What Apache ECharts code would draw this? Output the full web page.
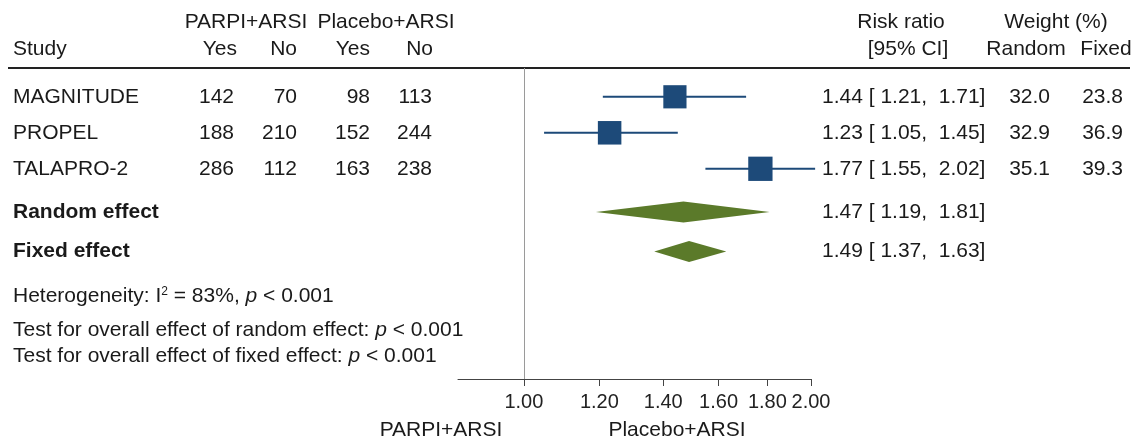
<!DOCTYPE html>
<html>
<head>
<meta charset="utf-8">
<script src="https://cdn.jsdelivr.net/npm/echarts@6/dist/echarts.min.js"></script>
<style>
  html, body { margin: 0; padding: 0; background: #fff; }
  #chart { width: 1137px; height: 443px; }
</style>
</head>
<body>
<div id="chart"></div>
<script>
// study level data
var studies = ['MAGNITUDE', 'PROPEL', 'TALAPRO-2'];
var parpiYes = [142, 188, 286];
var parpiNo = [70, 210, 112];
var placeboYes = [98, 152, 163];
var placeboNo = [113, 244, 238];
var riskRatio = [1.44, 1.23, 1.77];
var ciLow = [1.21, 1.05, 1.55];
var ciHigh = [1.71, 1.45, 2.02];
var weightRandom = [32.0, 32.9, 35.1];
var weightFixed = [23.8, 36.9, 39.3];

// pooled estimates
var pooledNames = ['Random effect', 'Fixed effect'];
var pooledRR = [1.47, 1.49];
var pooledLow = [1.19, 1.37];
var pooledHigh = [1.81, 1.63];

var tickValues = [1.00, 1.20, 1.40, 1.60, 1.80, 2.00];

var BLUE = '#1d4a79';
var GREEN = '#5b7a2a';
var INK = '#1a1a1a';
var FONT = "21px 'Liberation Sans', Arial, sans-serif";
var lg = Math.log;

function txt(s, x, y, align, font) {
  return {
    type: 'text',
    style: {
      text: s, x: x, y: y, font: font || FONT, fill: INK,
      align: align, verticalAlign: 'middle',
      textAlign: align, textVerticalAlign: 'middle'
    }
  };
}

function ciText(est, lo, hi) {
  return est.toFixed(2) + ' [ ' + lo.toFixed(2) + ',  ' + hi.toFixed(2) + ']';
}

var myChart = echarts.init(document.getElementById('chart'));

myChart.setOption({
  animation: false,
  grid: { left: 458, top: 68, width: 353, height: 311 },
  xAxis: {
    type: 'value',
    min: lg(0.853),
    max: lg(2.0),
    axisLine: { onZero: false, lineStyle: { color: '#444', width: 1 } },
    axisTick: { customValues: tickValues.map(lg), length: 7, lineStyle: { color: '#444' } },
    axisLabel: {
      customValues: tickValues.map(lg),
      formatter: function (v) { return Math.exp(v).toFixed(2); },
      fontSize: 20, fontFamily: "'Liberation Sans', Arial, sans-serif",
      color: '#222', margin: 13
    },
    splitLine: { show: false }
  },
  yAxis: { type: 'value', inverse: true, min: -0.8, max: 7.84, show: false },
  graphic: [
    { type: 'line', shape: { x1: 8, y1: 68, x2: 1130, y2: 68 }, style: { stroke: '#222', lineWidth: 2 } },
    txt('PARPI+ARSI', 246, 22, 'center'),
    txt('Placebo+ARSI', 386, 22, 'center'),
    txt('Study', 13, 49, 'left'),
    txt('Yes', 237, 49, 'right'),
    txt('No', 297, 49, 'right'),
    txt('Yes', 370, 49, 'right'),
    txt('No', 433, 49, 'right'),
    txt('Risk ratio', 901, 22, 'center'),
    txt('[95% CI]', 908, 49, 'center'),
    txt('Weight (%)', 1056, 22, 'center'),
    txt('Random', 1026, 49, 'center'),
    txt('Fixed', 1106, 49, 'center'),
    {
      type: 'text',
      style: {
        text: '{t|Heterogeneity: I}{sup|2}{t| = 83%, }{i|p}{t| < 0.001}',
        x: 13, y: 296, align: 'left', verticalAlign: 'middle',
        rich: {
          t: { font: FONT, fill: INK },
          i: { font: "italic " + FONT, fill: INK },
          sup: { font: "12px 'Liberation Sans', Arial, sans-serif", fill: INK, verticalAlign: 'top', lineHeight: 8 }
        }
      }
    },
    {
      type: 'text',
      style: {
        text: '{t|Test for overall effect of random effect: }{i|p}{t| < 0.001}',
        x: 13, y: 330, align: 'left', verticalAlign: 'middle',
        rich: { t: { font: FONT, fill: INK }, i: { font: "italic " + FONT, fill: INK } }
      }
    },
    {
      type: 'text',
      style: {
        text: '{t|Test for overall effect of fixed effect: }{i|p}{t| < 0.001}',
        x: 13, y: 356, align: 'left', verticalAlign: 'middle',
        rich: { t: { font: FONT, fill: INK }, i: { font: "italic " + FONT, fill: INK } }
      }
    },
    txt('PARPI+ARSI', 441, 430, 'center'),
    txt('Placebo+ARSI', 677, 430, 'center')
  ],
  series: [
    {
      name: 'studies',
      type: 'custom',
      clip: false,
      data: studies.map(function (s, i) {
        return [lg(riskRatio[i]), lg(ciLow[i]), lg(ciHigh[i]), i, weightRandom[i]];
      }),
      encode: { x: [0, 1, 2], y: 3 },
      renderItem: function (params, api) {
        var i = params.dataIndex;
        var row = api.value(3);
        var c = api.coord([api.value(0), row]);
        var lo = api.coord([api.value(1), row]);
        var hi = api.coord([api.value(2), row]);
        var side = 4.1 * Math.sqrt(api.value(4));
        var y = c[1];
        return {
          type: 'group',
          children: [
            { type: 'line', shape: { x1: lo[0], y1: y, x2: hi[0], y2: y }, style: { stroke: BLUE, lineWidth: 2 } },
            { type: 'rect', shape: { x: c[0] - side / 2, y: y - side / 2, width: side, height: side }, style: { fill: BLUE } },
            txt(studies[i], 13, y, 'left'),
            txt(String(parpiYes[i]), 234, y, 'right'),
            txt(String(parpiNo[i]), 297, y, 'right'),
            txt(String(placeboYes[i]), 370, y, 'right'),
            txt(String(placeboNo[i]), 432, y, 'right'),
            txt(ciText(riskRatio[i], ciLow[i], ciHigh[i]), 822, y, 'left'),
            txt(weightRandom[i].toFixed(1), 1050, y, 'right'),
            txt(weightFixed[i].toFixed(1), 1123, y, 'right')
          ]
        };
      },
      markLine: {
        silent: true,
        symbol: 'none',
        label: { show: false },
        lineStyle: { color: '#9a9a9a', type: 'solid', width: 1 },
        data: [{ xAxis: 0 }]
      }
    },
    {
      name: 'pooled',
      type: 'custom',
      clip: false,
      data: pooledNames.map(function (s, i) {
        return [lg(pooledRR[i]), lg(pooledLow[i]), lg(pooledHigh[i]), 3.2 + i * 1.1];
      }),
      encode: { x: [0, 1, 2], y: 3 },
      renderItem: function (params, api) {
        var i = params.dataIndex;
        var row = api.value(3);
        var c = api.coord([api.value(0), row]);
        var lo = api.coord([api.value(1), row]);
        var hi = api.coord([api.value(2), row]);
        var h = 10.5;
        return {
          type: 'group',
          children: [
            {
              type: 'polygon',
              shape: { points: [[lo[0], c[1]], [c[0], c[1] - h], [hi[0], c[1]], [c[0], c[1] + h]] },
              style: { fill: GREEN }
            },
            txt(pooledNames[i], 13, c[1], 'left', 'bold ' + FONT),
            txt(ciText(pooledRR[i], pooledLow[i], pooledHigh[i]), 822, c[1], 'left')
          ]
        };
      }
    }
  ]
});
</script>
</body>
</html>
